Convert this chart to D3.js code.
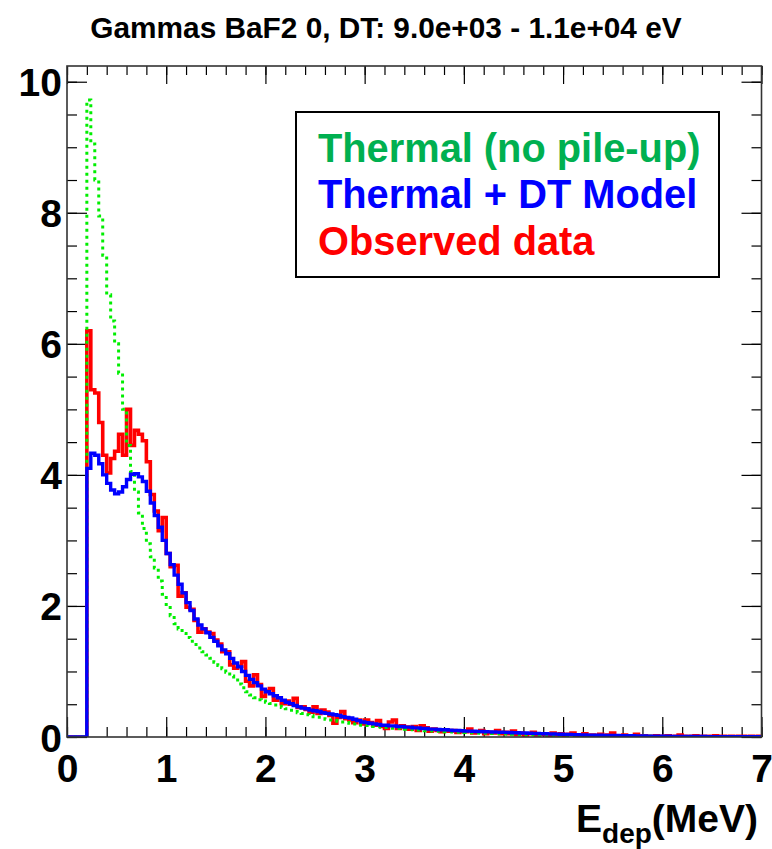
<!DOCTYPE html>
<html>
<head>
<meta charset="utf-8">
<script src="https://cdn.jsdelivr.net/npm/d3@7"></script>
<style>
  html, body { margin: 0; padding: 0; background: #fff; }
  svg { display: block; font-family: "Liberation Sans", Arial, Helvetica, sans-serif; font-weight: bold; }
</style>
</head>
<body>
<svg id="chart" width="772" height="849"></svg>
<script>
// ---------------- data ----------------
const titleText = "Gammas BaF2 0, DT: 9.0e+03 - 1.1e+04 eV";
const binStart = 0.0;     // MeV, first bin low edge
const binWidth = 0.04;    // MeV
const xTicks = [0, 1, 2, 3, 4, 5, 6, 7];
const yTicks = [0, 2, 4, 6, 8, 10];
const legendLabels = ["Thermal (no pile-up)", "Thermal + DT Model", "Observed data"];

// Thermal (no pile-up) - green dotted
const thermal = [
  0, 0, 0, 0, 0, 9.72, 9.05, 8.5, 7.95, 7.35,
  6.75, 6.35, 6.0, 5.55, 5.0, 4.45, 4.05, 3.74, 3.42, 3.18,
  2.95, 2.75, 2.58, 2.38, 2.18, 2.0, 1.85, 1.73, 1.65, 1.58,
  1.52, 1.46, 1.41, 1.36, 1.30, 1.25, 1.20, 1.14, 1.09, 1.04,
  0.99, 0.93, 0.87, 0.81, 0.75, 0.69, 0.64, 0.60, 0.57, 0.55,
  0.53, 0.51, 0.49, 0.47, 0.45, 0.43, 0.41, 0.39, 0.37, 0.36,
  0.34, 0.33, 0.31, 0.30, 0.28, 0.27, 0.26, 0.25, 0.24, 0.23,
  0.22, 0.21, 0.20, 0.19, 0.18, 0.175, 0.17, 0.16, 0.155, 0.15,
  0.145, 0.14, 0.135, 0.13, 0.125, 0.12, 0.115, 0.11, 0.105, 0.10,
  0.097, 0.094, 0.09, 0.087, 0.084, 0.08, 0.078, 0.075, 0.072, 0.07,
  0.068, 0.066, 0.063, 0.061, 0.059, 0.057, 0.055, 0.053, 0.051, 0.049,
  0.047, 0.045, 0.043, 0.041, 0.040, 0.038, 0.036, 0.035, 0.033, 0.032,
  0.031, 0.029, 0.028, 0.027, 0.026, 0.025, 0.024, 0.023, 0.022, 0.021,
  0.020, 0.019, 0.018, 0.018, 0.017, 0.016, 0.015, 0.015, 0.014, 0.013,
  0.013, 0.012, 0.012, 0.011, 0.011, 0.010, 0.010, 0.009, 0.009, 0.009,
  0.008, 0.008, 0.008, 0.007, 0.007, 0.007, 0.006, 0.006, 0.006, 0.006,
  0.005, 0.005, 0.005, 0.005, 0.004, 0.004, 0.004, 0.004, 0.004, 0.003,
  0.003, 0.003, 0.003, 0.003, 0.003
];

// Thermal + DT Model - blue
const model = [
  0, 0, 0, 0, 0, 4.1, 4.33, 4.3, 4.17, 4.0,
  3.87, 3.77, 3.71, 3.74, 3.82, 3.93, 4.01, 4.02, 3.97, 3.9,
  3.75, 3.57, 3.38, 3.2, 3.0, 2.8, 2.63, 2.47, 2.33, 2.2,
  2.05, 1.93, 1.80, 1.71, 1.65, 1.59, 1.52, 1.46, 1.39, 1.33,
  1.27, 1.20, 1.13, 1.07, 1.00, 0.94, 0.88, 0.83, 0.78, 0.73,
  0.69, 0.66, 0.63, 0.60, 0.56, 0.53, 0.51, 0.48, 0.46, 0.44,
  0.43, 0.41, 0.40, 0.39, 0.37, 0.36, 0.35, 0.34, 0.33, 0.31,
  0.30, 0.29, 0.27, 0.25, 0.23, 0.22, 0.21, 0.20, 0.19, 0.18,
  0.18, 0.17, 0.17, 0.16, 0.16, 0.15, 0.15, 0.14, 0.14, 0.13,
  0.13, 0.12, 0.12, 0.115, 0.11, 0.11, 0.105, 0.10, 0.10, 0.095,
  0.09, 0.09, 0.088, 0.085, 0.083, 0.08, 0.078, 0.076, 0.074, 0.072,
  0.07, 0.068, 0.066, 0.064, 0.062, 0.06, 0.058, 0.056, 0.054, 0.052,
  0.05, 0.048, 0.046, 0.044, 0.042, 0.04, 0.038, 0.036, 0.034, 0.032,
  0.03, 0.029, 0.028, 0.027, 0.026, 0.025, 0.024, 0.023, 0.022, 0.021,
  0.02, 0.019, 0.018, 0.017, 0.016, 0.015, 0.014, 0.013, 0.012, 0.012,
  0.011, 0.011, 0.01, 0.01, 0.009, 0.009, 0.008, 0.008, 0.007, 0.007,
  0.007, 0.006, 0.006, 0.006, 0.005, 0.005, 0.005, 0.005, 0.004, 0.004,
  0.004, 0.004, 0.003, 0.003, 0.003
];

// Observed data - red
const observed = [
  0, 0, 0, 0, 0, 6.2, 5.3, 5.25, 4.8, 4.3,
  4.03, 4.25, 4.36, 4.62, 4.3, 5.0, 4.45, 4.68, 4.62, 4.52,
  4.2, 3.7, 3.45, 3.15, 3.35, 2.8, 2.6, 2.62, 2.15, 2.2,
  1.98, 1.95, 1.78, 1.6, 1.65, 1.6, 1.58, 1.48, 1.42, 1.3,
  1.30, 1.10, 1.05, 1.08, 1.15, 0.85, 0.78, 0.95, 0.80, 0.62,
  0.70, 0.74, 0.56, 0.60, 0.51, 0.55, 0.50, 0.59, 0.45, 0.46,
  0.42, 0.38, 0.46, 0.36, 0.41, 0.38, 0.33, 0.21, 0.30, 0.39,
  0.28, 0.26, 0.22, 0.26, 0.20, 0.26, 0.22, 0.18, 0.25, 0.16,
  0.13, 0.23, 0.26, 0.13, 0.17, 0.15, 0.12, 0.16, 0.10, 0.17,
  0.14, 0.09, 0.12, 0.10, 0.08, 0.11, 0.09, 0.10, 0.07, 0.09,
  0.08, 0.12, 0.06, 0.08, 0.10, 0.05, 0.07, 0.06, 0.10, 0.05,
  0.07, 0.05, 0.09, 0.04, 0.06, 0.03, 0.05, 0.07, 0.03, 0.05,
  0.04, 0.02, 0.06, 0.03, 0.05, 0.02, 0.04, 0.06, 0.02, 0.03,
  0.05, 0.02, 0.03, 0.01, 0.04, 0.02, 0.03, 0.06, 0.01, 0.02,
  0.03, 0.01, 0.02, 0.04, 0.01, 0.02, 0.01, 0.00, 0.02, 0.01,
  0.01, 0.02, 0.00, 0.01, 0.03, 0.01, 0.00, 0.01, 0.02, 0.00,
  0.01, 0.00, 0.01, 0.02, 0.00, 0.01, 0.00, 0.01, 0.00, 0.01,
  0.01, 0.00, 0.01, 0.00, 0.01
];

// ---------------- layout ----------------
const svg = d3.select("#chart");
const W = 772, H = 849;
const plot = { left: 67, right: 761.5, top: 66, bottom: 737 };
const xMax = 7, yMax = 10.24;

svg.append("rect").attr("width", W).attr("height", H).attr("fill", "#fff");

const x = d3.scaleLinear().domain([0, xMax]).range([plot.left, plot.right]);
const y = d3.scaleLinear().domain([0, yMax]).range([plot.bottom, plot.top]);

// clip
svg.append("defs").append("clipPath").attr("id", "clip")
  .append("rect")
  .attr("x", plot.left).attr("y", plot.top)
  .attr("width", plot.right - plot.left).attr("height", plot.bottom - plot.top);

// ---------------- axes ----------------
const xMinor = d3.range(0, xMax + 1e-9, 0.2);
const yMinor = d3.range(0, yMax, 0.5);
const fontFam = '"Liberation Sans", Arial, Helvetica, sans-serif';

function styleAxis(g) {
  g.select(".domain").remove();
  g.selectAll(".tick line").attr("stroke", "#000").attr("stroke-width", 1.2);
}

// bottom
svg.append("g").attr("transform", `translate(0,${plot.bottom})`)
  .call(d3.axisBottom(x).tickValues(xMinor).tickSize(-10).tickFormat(""))
  .call(styleAxis);
const gxb = svg.append("g").attr("transform", `translate(0,${plot.bottom})`)
  .call(d3.axisBottom(x).tickValues(xTicks).tickSize(-20).tickFormat(d3.format("d")))
  .call(styleAxis);
gxb.selectAll("text")
  .attr("dy", null).attr("y", 45)
  .attr("fill", "#000")
  .style("font-family", fontFam).style("font-weight", "bold").style("font-size", "39px");

// top
svg.append("g").attr("transform", `translate(0,${plot.top})`)
  .call(d3.axisTop(x).tickValues(xMinor).tickSize(-9).tickFormat(""))
  .call(styleAxis);
svg.append("g").attr("transform", `translate(0,${plot.top})`)
  .call(d3.axisTop(x).tickValues(xTicks).tickSize(-18).tickFormat(""))
  .call(styleAxis);

// left
svg.append("g").attr("transform", `translate(${plot.left},0)`)
  .call(d3.axisLeft(y).tickValues(yMinor).tickSize(-10).tickFormat(""))
  .call(styleAxis);
const gyl = svg.append("g").attr("transform", `translate(${plot.left},0)`)
  .call(d3.axisLeft(y).tickValues(yTicks).tickSize(-20).tickFormat(d3.format("d")))
  .call(styleAxis);
gyl.selectAll("text")
  .attr("x", -5).attr("dy", "0.36em")
  .attr("fill", "#000")
  .style("font-family", fontFam).style("font-weight", "bold").style("font-size", "39px");

// right
svg.append("g").attr("transform", `translate(${plot.right},0)`)
  .call(d3.axisRight(y).tickValues(yMinor).tickSize(-10).tickFormat(""))
  .call(styleAxis);
svg.append("g").attr("transform", `translate(${plot.right},0)`)
  .call(d3.axisRight(y).tickValues(yTicks).tickSize(-20).tickFormat(""))
  .call(styleAxis);

// ---------------- histograms ----------------
function histPoints(vals) {
  const pts = vals.map((v, i) => [binStart + i * binWidth, v]);
  pts.push([binStart + vals.length * binWidth, vals[vals.length - 1]]);
  return pts;
}
const stepLine = d3.line()
  .x(d => x(d[0])).y(d => y(d[1]))
  .curve(d3.curveStepAfter);

const gData = svg.append("g").attr("clip-path", "url(#clip)");

gData.append("path").datum(histPoints(observed))
  .attr("d", stepLine).attr("fill", "none")
  .attr("stroke", "#ff0000").attr("stroke-width", 3.6).attr("stroke-linejoin", "miter");

gData.append("path").datum(histPoints(thermal))
  .attr("d", stepLine).attr("fill", "none")
  .attr("stroke", "#00ee00").attr("stroke-width", 3)
  .attr("stroke-dasharray", "3,4");

gData.append("path").datum(histPoints(model))
  .attr("d", stepLine).attr("fill", "none")
  .attr("stroke", "#0000ff").attr("stroke-width", 3.4).attr("stroke-linejoin", "miter");

// frame
svg.append("rect")
  .attr("x", plot.left).attr("y", plot.top)
  .attr("width", plot.right - plot.left).attr("height", plot.bottom - plot.top)
  .attr("fill", "none").attr("stroke", "#333").attr("stroke-width", 1.6);

// ---------------- title ----------------
svg.append("text")
  .attr("x", 386).attr("y", 38)
  .attr("text-anchor", "middle")
  .attr("fill", "#000")
  .style("font-size", "29.8px")
  .text(titleText);

// ---------------- x axis title ----------------
const xt = svg.append("text")
  .attr("x", 758).attr("y", 832)
  .attr("text-anchor", "end")
  .attr("fill", "#000")
  .style("font-size", "39px");
xt.append("tspan").text("E");
xt.append("tspan").attr("dy", 11).style("font-size", "28px").text("dep");
xt.append("tspan").attr("dy", -11).text("(MeV)");

// ---------------- legend ----------------
const legColors = ["#00b050", "#0000ff", "#ff0000"];
const leg = svg.append("g");
leg.append("rect")
  .attr("x", 296).attr("y", 112).attr("width", 423).attr("height", 165)
  .attr("fill", "#fff").attr("stroke", "#000").attr("stroke-width", 2);
leg.selectAll("text.leg").data(legendLabels).join("text")
  .attr("class", "leg")
  .attr("x", 318)
  .attr("y", (d, i) => 161.5 + i * 46.7)
  .attr("fill", (d, i) => legColors[i])
  .style("font-size", "39.8px")
  .text(d => d);
</script>
</body>
</html>
